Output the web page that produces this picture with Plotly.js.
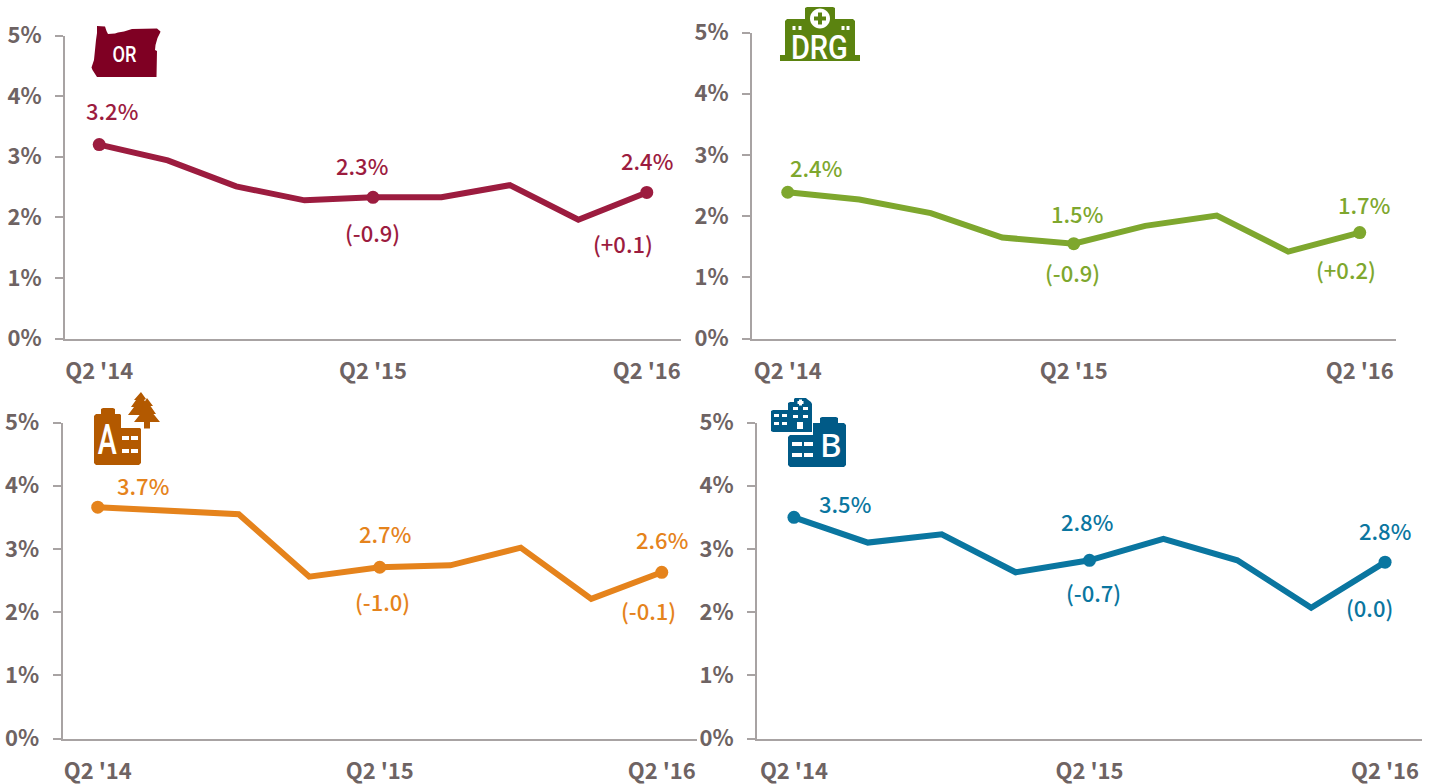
<!DOCTYPE html>
<html><head><meta charset="utf-8">
<script src="https://cdn.plot.ly/plotly-3.0.1.min.js"></script>
<style>html,body{margin:0;padding:0;background:#fff}</style></head>
<body><div id="chart" style="width:1437px;height:784px"></div>
<script>
const W = 1437, H = 784;
const quarters = ["Q2 '14","Q3 '14","Q4 '14","Q1 '15","Q2 '15","Q3 '15","Q4 '15","Q1 '16","Q2 '16"];
const tickQuarters = ["Q2 '14","Q2 '15","Q2 '16"];
const yTicks = [0,1,2,3,4,5];
const yLabels = ["0%","1%","2%","3%","4%","5%"];
const labelIndex = [0,4,8];

const orValues  = [3.20,2.94,2.51,2.28,2.33,2.33,2.53,1.96,2.41];
const drgValues = [2.39,2.27,2.05,1.65,1.55,1.84,2.01,1.42,1.73];
const aValues   = [3.66,3.61,3.55,2.56,2.71,2.74,3.02,2.21,2.63];
const bValues   = [3.50,3.10,3.23,2.63,2.82,3.16,2.82,2.07,2.79];

const orLabels  = ["3.2%","2.3%","2.4%"];
const drgLabels = ["2.4%","1.5%","1.7%"];
const aLabels   = ["3.7%","2.7%","2.6%"];
const bLabels   = ["3.5%","2.8%","2.8%"];
const orChanges  = ["(-0.9)","(+0.1)"];
const drgChanges = ["(-0.9)","(+0.2)"];
const aChanges   = ["(-1.0)","(-0.1)"];
const bChanges   = ["(-0.7)","(0.0)"];

const FONT = '"Noto Sans CJK JP", "Noto Sans", sans-serif';
const NARROW = 'Roboto, sans-serif';
const GREY = '#6e6363', AXIS = '#a8a3a3';
const SIZE = 22;
const LIFT = 2;

const panels = [
 {values:orValues, labels:orLabels, changes:orChanges, color:'#9c1c3f', l:65, r:681, t:35.5, b:338.5, stand:9, xstand:12,
  off:[[13,33],[-11,30.5],[0,30]], coff:[[-1,-36.5],[-24,-53]]},
 {values:drgValues, labels:drgLabels, changes:drgChanges, color:'#7ea72e', l:752, r:1395.5, t:32.5, b:338.5, stand:9, xstand:12,
  off:[[28,23],[3,29],[4,27]], coff:[[-1,-30],[-14,-38]]},
 {values:aValues, labels:aLabels, changes:aChanges, color:'#e5831c', l:62.5, r:697, t:422.5, b:738.5, stand:9, xstand:12,
  off:[[45,20],[5,32],[0,31]], coff:[[3,-36],[-13,-40]]},
 {values:bValues, labels:bLabels, changes:bChanges, color:'#0a76a0', l:757, r:1422, t:422.5, b:738.5, stand:9, xstand:12,
  off:[[51,12],[-3,37],[0,30]], coff:[[4,-34],[-16,-47]]}
];

const data = [], annotations = [], layout = {
  width:W, height:H, margin:{l:0,r:0,t:0,b:0,pad:0}, showlegend:false,
  paper_bgcolor:'#fff', plot_bgcolor:'#fff', font:{family:FONT,color:GREY}
};

panels.forEach((p,i)=>{
  const n = i+1, xa = 'xaxis'+n, ya = 'yaxis'+n, xr = 'x'+n, yr = 'y'+n;
  data.push({type:'scatter',mode:'lines',x:quarters,y:p.values,xaxis:xr,yaxis:yr,
    line:{color:p.color,width:6,shape:'linear'},hoverinfo:'skip',cliponaxis:false});
  data.push({type:'scatter',mode:'markers',
    x:labelIndex.map(k=>quarters[k]),y:labelIndex.map(k=>p.values[k]),xaxis:xr,yaxis:yr,
    marker:{color:p.color,size:13},hoverinfo:'skip',cliponaxis:false});
  layout[xa] = {domain:[p.l/W,p.r/W],anchor:yr,type:'category',categoryorder:'array',categoryarray:quarters,
    range:[-0.5,8.5],tickmode:'array',tickvals:tickQuarters,ticktext:tickQuarters,ticks:'',
    ticklabelstandoff:p.xstand,showgrid:false,zeroline:false,showline:true,linecolor:AXIS,linewidth:2,
    tickfont:{family:FONT,size:SIZE,color:GREY,weight:700},tickangle:0,fixedrange:true};
  layout[ya] = {domain:[1-p.b/H,1-p.t/H],anchor:xr,range:[0,5],tickmode:'array',tickvals:yTicks,ticktext:yLabels,
    ticks:'outside',ticklen:8,tickwidth:2,tickcolor:AXIS,ticklabelstandoff:p.stand,showgrid:false,zeroline:false,
    showline:true,linecolor:AXIS,linewidth:2,tickfont:{family:FONT,size:SIZE,color:GREY,weight:700},fixedrange:true};
  labelIndex.forEach((k,j)=>{
    annotations.push({xref:xr,yref:yr,x:quarters[k],y:p.values[k],text:p.labels[j],showarrow:false,
      xanchor:'center',yanchor:'middle',xshift:p.off[j][0],yshift:p.off[j][1]+LIFT,
      font:{family:FONT,size:SIZE,color:p.color,weight:500}});
    if(j>0) annotations.push({xref:xr,yref:yr,x:quarters[k],y:p.values[k],text:p.changes[j-1],showarrow:false,
      xanchor:'center',yanchor:'middle',xshift:p.coff[j-1][0],yshift:p.coff[j-1][1]+LIFT,
      font:{family:FONT,size:SIZE,color:p.color,weight:500}});
  });
});

/* icons, drawn in page pixels and converted to paper fractions */
function px(path){
  let isX = true;
  return path.replace(/-?\d+(\.\d+)?/g, m=>{
    const v = parseFloat(m), o = isX ? (v/W) : (1-v/H); isX = !isX; return o.toFixed(6);
  });
}
function rect(x0,y0,x1,y1){return `M${x0} ${y0}L${x1} ${y0}L${x1} ${y1}L${x0} ${y1}Z`;}
function circle(cx,cy,r){const k=r*0.5523;
  return `M${cx-r} ${cy}C${cx-r} ${cy-k} ${cx-k} ${cy-r} ${cx} ${cy-r}C${cx+k} ${cy-r} ${cx+r} ${cy-k} ${cx+r} ${cy}C${cx+r} ${cy+k} ${cx+k} ${cy+r} ${cx} ${cy+r}C${cx-k} ${cy+r} ${cx-r} ${cy+k} ${cx-r} ${cy}Z`;}
const shapes = [];
function ic(path,color){shapes.push({type:'path',xref:'paper',yref:'paper',path:px(path),fillcolor:color,line:{width:0},layer:'above'});}
const squeezed = {OR:24, DRG:57, A:19};
function iconText(x,y,text,size,family,weight){annotations.push({xref:'paper',yref:'paper',x:x/W,y:1-y/H,text,showarrow:false,
  xanchor:'center',yanchor:'middle',font:{family:family||NARROW,size,color:'#fff',weight:weight||400}});}

const OR='#7f0023', DRG='#5b8310', AC='#b35900', BC='#005a87', WH='#ffffff';
// Oregon
ic('M97 26L105 26.5L106.5 31L108 34L115 33.5L118 32.5L124 31.5L132 29L157 28.5L160.5 31.5L160 33L157.5 38L155.5 45L155 50L157 51L156.5 77L97 77L92.5 70L91.5 67.5L94 60L95 50L96 40L97 33Z',OR);
iconText(125,54.5,'OR',22,NARROW,500);
// DRG hospital
ic('M780 55L785 55L785 21L787 19L805 19L805 8L807 7L833 7L835 8L835 19L853 19L855 21L855 55L860 55L860 61L780 61Z',DRG);
ic(circle(820,18.5,10),WH);
ic(rect(818,12.5,822,24.5),DRG); ic(rect(814,16.5,826,20.5),DRG);
[794,800,843,848].forEach(x=>ic(rect(x-1.5,26,x+1.5,30),WH));
iconText(820,47,'DRG',33,NARROW,500);
// A building with trees
ic('M101 409L103 408L113 408L115 409L115 414L120 414L121 415L121 428L140 428L141 429L141 463L139 465L96 465L94 463L94 416L96 414L101 414Z',AC);
iconText(107.5,439,'A',43,NARROW,500);
[[122,129],[131,138]].forEach(a=>{ic(rect(a[0],436,a[1],440),WH);ic(rect(a[0],449,a[1],453),WH);});
ic('M141 392L146 399L144 400L148 405L140 415L128 415L134 407L131 407L136 400L134 400Z',AC);
ic('M147 398L153 406L150.5 406L156 414L153.5 414L160 422L150 422L150 428.5L144 428.5L144 422L134 422L140 414.5L138 414.5L143 407L141.5 407Z',AC);
// B buildings
ic('M820 418L822 417L836 417L838 418L838 423L844 423L846 425L846 465L844 467L790 467L788 465L788 437L790 435L813 435L813 423L820 423Z',BC);
[[792,802],[804,813]].forEach(a=>{ic(rect(a[0],442,a[1],446),WH);ic(rect(a[0],453,a[1],457),WH);});
iconText(831,445,'B',33,'"Noto Sans", sans-serif',500);
ic('M794 399L795 398L806 398L807 399L811 402L812 404L812 432L773 432L771 431L771 411L773 410L788 410L788 403L790 402L794 402Z',BC);
ic(rect(799,399.5,802,405.5),WH); ic(rect(797.5,401,803.5,404),WH);
[[774,779],[782,787]].forEach(a=>{ic(rect(a[0],414,a[1],417),WH);ic(rect(a[0],422,a[1],425),WH);});
[[793,798],[803,808]].forEach(a=>{ic(rect(a[0],407,a[1],410),WH);ic(rect(a[0],415,a[1],418),WH);});
ic(rect(797,422,803,429),WH);

layout.annotations = annotations;
layout.shapes = shapes;
Plotly.newPlot('chart',data,layout,{displayModeBar:false,staticPlot:true}).then(gd=>{
  gd.querySelectorAll('.annotation-text').forEach(t=>{
    const w = squeezed[t.textContent];
    if(w){t.setAttribute('textLength',w);t.setAttribute('lengthAdjust','spacingAndGlyphs');}
  });
});
</script></body></html>
